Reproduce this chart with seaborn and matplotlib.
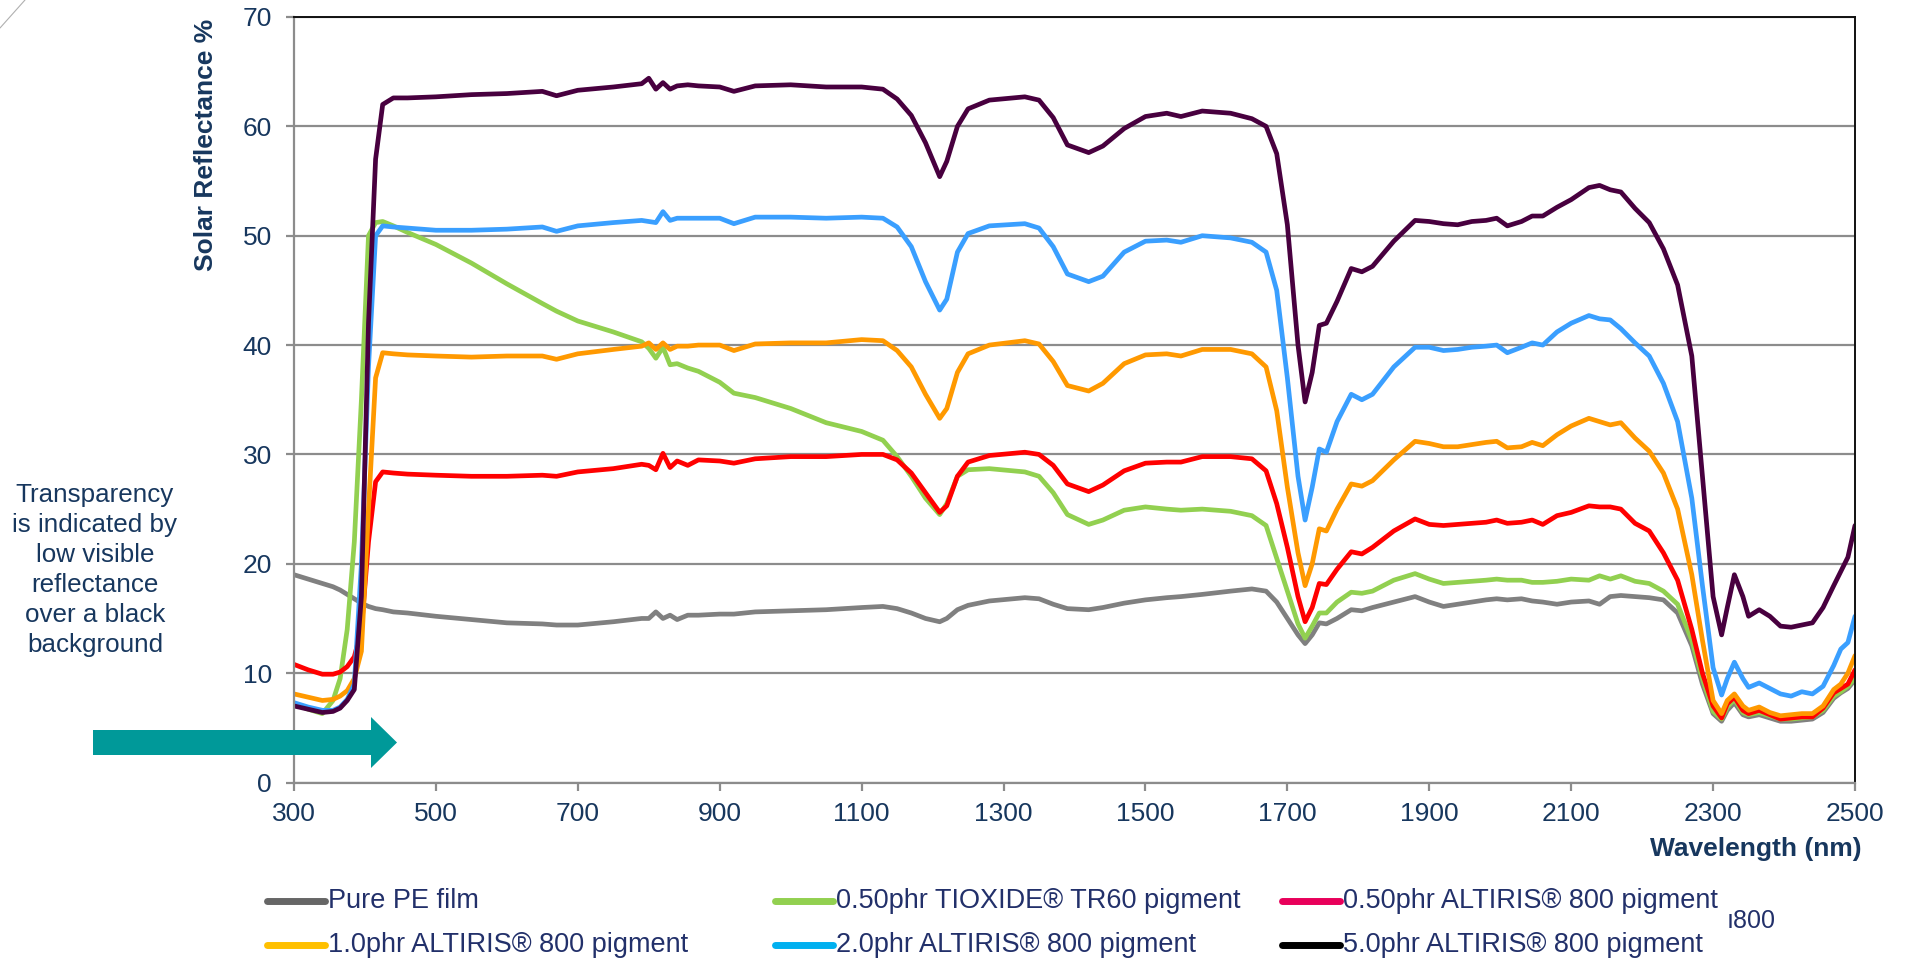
import matplotlib
matplotlib.use("Agg")
import matplotlib.pyplot as plt
from matplotlib.lines import Line2D
from matplotlib.patches import Polygon
import seaborn as sns
import pandas as pd

# ---- data -----------------------------------------------------------------
wavelength = [
    300, 320, 340, 355, 365, 375, 385, 395, 405, 415,
    425, 440, 460, 500, 550, 600, 650, 670, 700, 750,
    790, 800, 810, 820, 830, 840, 855, 870, 900, 920,
    950, 1000, 1050, 1100, 1130, 1150, 1170, 1190, 1210, 1220,
    1235, 1250, 1280, 1330, 1350, 1370, 1390, 1420, 1440, 1470,
    1500, 1530, 1550, 1580, 1620, 1650, 1670, 1685, 1700, 1715,
    1725, 1735, 1745, 1755, 1770, 1790, 1805, 1820, 1850, 1880,
    1900, 1920, 1940, 1960, 1980, 1995, 2010, 2030, 2045, 2060,
    2080, 2100, 2125, 2140, 2155, 2170, 2190, 2210, 2230, 2250,
    2270, 2285, 2300, 2312, 2320, 2330, 2342, 2350, 2365, 2380,
    2395, 2410, 2425, 2440, 2455, 2470, 2480, 2490, 2500,
]

pure_pe = [
    19.0, 18.6, 18.2, 17.9, 17.6, 17.2, 16.8, 16.4, 16.1, 15.9,
    15.8, 15.6, 15.5, 15.2, 14.9, 14.6, 14.5, 14.4, 14.4, 14.7,
    15.0, 15.0, 15.6, 15.0, 15.3, 14.9, 15.3, 15.3, 15.4, 15.4,
    15.6, 15.7, 15.8, 16.0, 16.1, 15.9, 15.5, 15.0, 14.7, 15.0,
    15.8, 16.2, 16.6, 16.9, 16.8, 16.3, 15.9, 15.8, 16.0, 16.4,
    16.7, 16.9, 17.0, 17.2, 17.5, 17.7, 17.5, 16.5, 15.0, 13.5,
    12.7, 13.5, 14.6, 14.5, 15.0, 15.8, 15.7, 16.0, 16.5, 17.0,
    16.5, 16.1, 16.3, 16.5, 16.7, 16.8, 16.7, 16.8, 16.6, 16.5,
    16.3, 16.5, 16.6, 16.3, 17.0, 17.1, 17.0, 16.9, 16.7, 15.5,
    12.5, 9.0, 6.3, 5.6, 6.6, 7.3, 6.2, 6.0, 6.2, 5.9,
    5.6, 5.6, 5.7, 5.8, 6.4, 7.7, 8.2, 8.6, 9.4,
]

tioxide_050 = [
    7.2, 6.7, 6.3, 7.5, 9.5, 14.0, 22.0, 35.0, 50.0, 51.2,
    51.3, 50.9, 50.3, 49.2, 47.5, 45.6, 43.8, 43.1, 42.2, 41.2,
    40.3, 39.7, 38.8, 39.8, 38.2, 38.3, 37.9, 37.6, 36.6, 35.6,
    35.2, 34.2, 32.9, 32.1, 31.3, 29.8, 28.0, 26.0, 24.5, 25.5,
    28.0, 28.6, 28.7, 28.4, 28.0, 26.5, 24.5, 23.6, 24.0, 24.9,
    25.2, 25.0, 24.9, 25.0, 24.8, 24.4, 23.5, 20.5, 17.5, 14.5,
    13.2, 14.3, 15.5, 15.5, 16.5, 17.4, 17.3, 17.5, 18.5, 19.1,
    18.6, 18.2, 18.3, 18.4, 18.5, 18.6, 18.5, 18.5, 18.3, 18.3,
    18.4, 18.6, 18.5, 18.9, 18.6, 18.9, 18.4, 18.2, 17.5, 16.3,
    13.0, 9.5, 6.5, 5.8, 6.9, 7.6, 6.4, 6.2, 6.4, 6.1,
    5.8, 5.8, 5.9, 6.0, 6.6, 7.9, 8.3, 8.8, 9.6,
]

altiris_050 = [
    10.8, 10.3, 9.9, 9.9, 10.1, 10.6, 11.5, 14.0, 22.0, 27.5,
    28.4, 28.3, 28.2, 28.1, 28.0, 28.0, 28.1, 28.0, 28.4, 28.7,
    29.1, 29.0, 28.6, 30.1, 28.8, 29.4, 29.0, 29.5, 29.4, 29.2,
    29.6, 29.8, 29.8, 30.0, 30.0, 29.5, 28.3, 26.5, 24.7, 25.3,
    28.0, 29.3, 29.9, 30.2, 30.0, 29.0, 27.3, 26.6, 27.2, 28.5,
    29.2, 29.3, 29.3, 29.8, 29.8, 29.6, 28.5, 25.5, 21.5, 17.0,
    14.7, 16.0, 18.2, 18.1, 19.5, 21.1, 20.9, 21.5, 23.0, 24.1,
    23.6, 23.5, 23.6, 23.7, 23.8, 24.0, 23.7, 23.8, 24.0, 23.6,
    24.4, 24.7, 25.3, 25.2, 25.2, 25.0, 23.7, 23.0, 21.0, 18.5,
    14.0, 10.0, 7.0, 5.9, 7.2, 7.8, 6.6, 6.3, 6.6, 6.2,
    5.8, 5.9, 6.0, 6.0, 6.8, 8.2, 8.6, 9.0, 10.3,
]

altiris_10 = [
    8.1, 7.8, 7.5, 7.6, 7.9, 8.4, 9.5, 12.0, 25.0, 37.0,
    39.3, 39.2, 39.1, 39.0, 38.9, 39.0, 39.0, 38.7, 39.2, 39.6,
    39.9, 40.2, 39.6, 40.2, 39.6, 39.9, 39.9, 40.0, 40.0, 39.5,
    40.1, 40.2, 40.2, 40.5, 40.4, 39.5, 38.0, 35.5, 33.3, 34.2,
    37.5, 39.2, 40.0, 40.4, 40.1, 38.5, 36.3, 35.8, 36.5, 38.3,
    39.1, 39.2, 39.0, 39.6, 39.6, 39.2, 38.0, 34.0, 27.0, 21.0,
    18.0, 20.0, 23.2, 23.0, 25.0, 27.3, 27.1, 27.6, 29.5, 31.2,
    31.0, 30.7, 30.7, 30.9, 31.1, 31.2, 30.6, 30.7, 31.1, 30.8,
    31.8, 32.6, 33.3, 33.0, 32.7, 32.9, 31.5, 30.3, 28.3, 25.0,
    19.0, 13.0, 7.5, 6.3, 7.5, 8.1, 7.0, 6.6, 6.9, 6.4,
    6.1, 6.2, 6.3, 6.3, 7.0, 8.5, 9.0, 10.0, 11.6,
]

altiris_20 = [
    7.3, 6.9, 6.6, 6.6, 6.9, 7.6, 9.0, 20.0, 38.0, 50.0,
    50.9, 50.8, 50.7, 50.5, 50.5, 50.6, 50.8, 50.4, 50.9, 51.2,
    51.4, 51.3, 51.2, 52.2, 51.4, 51.6, 51.6, 51.6, 51.6, 51.1,
    51.7, 51.7, 51.6, 51.7, 51.6, 50.8, 49.0, 45.8, 43.2, 44.2,
    48.5, 50.2, 50.9, 51.1, 50.7, 49.0, 46.5, 45.8, 46.3, 48.5,
    49.5, 49.6, 49.4, 50.0, 49.8, 49.4, 48.5, 45.0, 37.0, 28.0,
    24.0, 27.0, 30.5, 30.2, 33.0, 35.5, 35.0, 35.5, 38.0, 39.8,
    39.8, 39.5, 39.6, 39.8, 39.9, 40.0, 39.3, 39.8, 40.2, 40.0,
    41.2, 42.0, 42.7, 42.4, 42.3, 41.5, 40.2, 39.0, 36.5, 33.0,
    26.0, 18.0, 10.5, 8.0, 9.5, 11.0, 9.5, 8.7, 9.1, 8.6,
    8.1, 7.9, 8.3, 8.1, 8.8, 10.7, 12.2, 12.8, 15.2,
]

altiris_50 = [
    7.0, 6.7, 6.4, 6.5, 6.8, 7.5, 8.5, 17.0, 42.0, 57.0,
    62.0, 62.6, 62.6, 62.7, 62.9, 63.0, 63.2, 62.8, 63.3, 63.6,
    63.9, 64.4, 63.4, 64.0, 63.4, 63.7, 63.8, 63.7, 63.6, 63.2,
    63.7, 63.8, 63.6, 63.6, 63.4, 62.5, 61.0, 58.5, 55.4, 56.8,
    60.0, 61.6, 62.4, 62.7, 62.4, 60.8, 58.3, 57.6, 58.2, 59.8,
    60.9, 61.2, 60.9, 61.4, 61.2, 60.7, 60.0, 57.5, 51.0, 40.0,
    34.8, 37.5, 41.8, 42.0, 44.0, 47.0, 46.7, 47.2, 49.5, 51.4,
    51.3, 51.1, 51.0, 51.3, 51.4, 51.6, 50.9, 51.3, 51.8, 51.8,
    52.6, 53.3, 54.4, 54.6, 54.2, 54.0, 52.5, 51.2, 48.8, 45.5,
    39.0, 28.0, 17.0, 13.5, 16.0, 19.0, 17.0, 15.2, 15.8, 15.2,
    14.3, 14.2, 14.4, 14.6, 16.0, 18.0, 19.3, 20.6, 23.5,
]

series_names = [
    "Pure PE film",
    "0.50phr TIOXIDE® TR60 pigment",
    "0.50phr ALTIRIS® 800 pigment",
    "1.0phr ALTIRIS® 800 pigment",
    "2.0phr ALTIRIS® 800 pigment",
    "5.0phr ALTIRIS® 800 pigment",
]
series_values = [pure_pe, tioxide_050, altiris_050, altiris_10, altiris_20, altiris_50]

x_ticks = [300, 500, 700, 900, 1100, 1300, 1500, 1700, 1900, 2100, 2300, 2500]
y_ticks = [0, 10, 20, 30, 40, 50, 60, 70]

# ---- styling ----------------------------------------------------------------
line_colors = ["#808080", "#92D050", "#FF0000", "#FF9900", "#3A9FFF", "#48003F"]
legend_colors = ["#666666", "#92D050", "#E8005A", "#FFC000", "#00B0F0", "#000000"]
NAVY = "#17375E"
LEGEND_TEXT = "#22306A"

sns.set_theme(style="white")
plt.rcParams["font.family"] = ["Liberation Sans", "DejaVu Sans"]

records = []
for name, vals in zip(series_names, series_values):
    assert len(vals) == len(wavelength), name
    for w, v in zip(wavelength, vals):
        records.append({"Wavelength": w, "Reflectance": v, "Sample": name})
df = pd.DataFrame(records)

W, H = 1906, 961
fig = plt.figure(figsize=(W / 100, H / 100), dpi=100)
ax = fig.add_axes([294 / W, 1 - 782.5 / H, (1855 - 294) / W, (782.5 - 17) / H])

sns.lineplot(
    data=df, x="Wavelength", y="Reflectance", hue="Sample",
    hue_order=series_names, palette=dict(zip(series_names, line_colors)),
    linewidth=3.4, ax=ax, legend=False, sort=True,
)
for ln in ax.get_lines():
    ln.set_solid_capstyle("round")
    ln.set_solid_joinstyle("round")

ax.set_xlim(300, 2500)
ax.set_ylim(0, 70)
ax.set_xticks(x_ticks)
ax.set_yticks(y_ticks)
ax.grid(axis="y", color="#8C8C8C", linewidth=1.6)
ax.grid(axis="x", visible=False)
ax.set_axisbelow(True)

for side in ("left", "bottom"):
    ax.spines[side].set_color("#8C8C8C")
    ax.spines[side].set_linewidth(1.6)
for side in ("top", "right"):
    ax.spines[side].set_color("#111111")
    ax.spines[side].set_linewidth(1.4)

ax.tick_params(axis="both", which="major", direction="out", length=6,
               width=1.6, color="#8C8C8C", labelsize=19, labelcolor=NAVY)
ax.tick_params(axis="x", pad=8, bottom=True)
ax.tick_params(axis="y", pad=10, left=True)

ax.set_ylabel("Solar Reflectance %", fontsize=19, fontweight="bold", color=NAVY)
ax.yaxis.set_label_coords(-0.0487, 0.833)
ax.set_xlabel("Wavelength (nm)", fontsize=19, fontweight="bold", color=NAVY, loc="right")
ax.xaxis.set_label_coords(1.004, -0.071)

# note on the left of the plot
fig.text(95 / W, 1 - 570 / H,
         "Transparency\nis indicated by\nlow visible\nreflectance\nover a black\nbackground",
         ha="center", va="center", fontsize=18.7, color=NAVY, linespacing=1.32)

# teal arrow pointing into the low-reflectance region
arrow_px = [(93, 730), (371, 730), (371, 717), (397, 742.5), (371, 768), (371, 755), (93, 755)]
fig.patches.append(Polygon([(x / W, 1 - y / H) for x, y in arrow_px], closed=True,
                           transform=fig.transFigure, facecolor="#009999",
                           edgecolor="none", zorder=5))

# thin slide ornament in the corner
fig.add_artist(Line2D([0, 25 / W], [1 - 28 / H, 1.0], transform=fig.transFigure,
                      color="#B0B0B0", linewidth=0.8))

# legend: three columns, filled row by row (swatch start, text start in pixels)
legend_cols = [(267, 328), (775, 836), (1282, 1343)]
legend_rows = [901, 944.5]
for idx, (name, color) in enumerate(zip(series_names, legend_colors)):
    row, col = divmod(idx, 3)
    x0, xt = legend_cols[col]
    y = 1 - legend_rows[row] / H
    fig.add_artist(Line2D([x0 / W, (x0 + 58) / W], [y, y], transform=fig.transFigure,
                          color=color, linewidth=5, solid_capstyle="round"))
    fig.text(xt / W, y, name, ha="left", va="center", fontsize=19.5, color=LEGEND_TEXT)

fig.text(1727 / W, 1 - 921 / H, "ı800", ha="left", va="center",
         fontsize=18, color=LEGEND_TEXT)

fig.savefig("out.png", dpi=100, facecolor="white")
